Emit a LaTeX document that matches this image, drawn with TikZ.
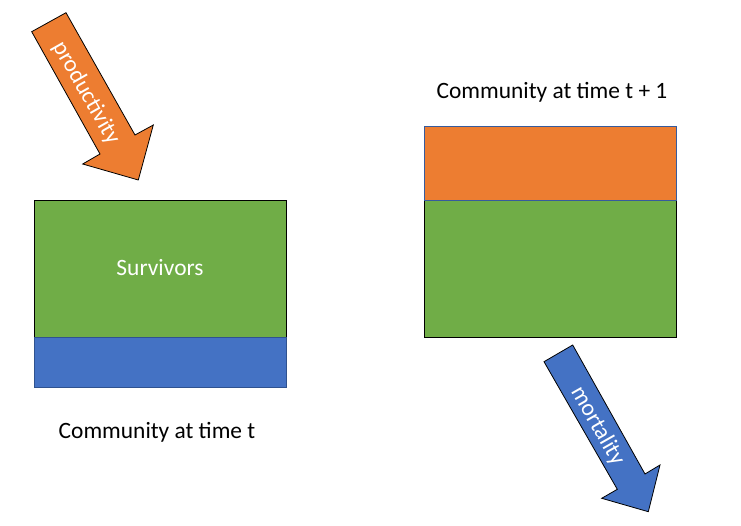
\documentclass[tikz,border=0pt]{standalone}
\usepackage{fontspec}
\setmainfont{Carlito}
\definecolor{cgreen}{HTML}{70AD47}
\definecolor{corange}{HTML}{ED7D31}
\definecolor{cblue}{HTML}{4472C4}
\definecolor{cdblue}{HTML}{2F528F}
\tikzset{
  lbl/.style={font=\fontsize{23.5}{26}\selectfont, inner sep=0pt, anchor=base},
  arrowshape/.style={draw=black, line width=0.8bp, line join=miter},
  arrowtext/.style={font=\fontsize{23.5}{26}\selectfont, text=white, rotate=-60.4, inner sep=0pt}
}
\begin{document}
\begin{tikzpicture}[x=1bp,y=-1bp]
\useasboundingbox (0,0) rectangle (741,526);
% left community
\fill[cgreen] (34.3,200.7) rectangle (286.7,337);
\fill[cblue] (34.3,337) rectangle (286.7,387);
\draw[draw=cdblue, line width=0.9bp] (34.3,337) rectangle (286.7,387);
\draw[black, line width=0.9bp] (34.3,337) -- (34.3,200.7) -- (286.7,200.7) -- (286.7,337);
\node[lbl, text=white] (surv) at (160,275.7) {Survivors};
\node[lbl] (lt) at (157,438.3) {Community at time t};
% right community
\fill[corange] (424.3,126) rectangle (676.7,200);
\fill[cgreen] (424.3,200) rectangle (676.7,337.3);
\draw[black, line width=0.9bp] (424.3,200) rectangle (676.7,337.3);
\draw[draw=cblue!80!black, line width=0.9bp] (424.3,126) rectangle (676.7,200);
\node[lbl] (rt) at (552,99) {Community at time t + 1};
% productivity arrow
\filldraw[arrowshape, fill=corange] (31.7,31.7) -- (66,12.7) -- (135,135) -- (153.3,125) -- (138.3,180) -- (82.7,164) -- (100,154) -- cycle;
\node[arrowtext] (prod) at (86,93) {productivity};
% mortality arrow
\filldraw[arrowshape, fill=cblue] (544,361.7) -- (572.7,345) -- (645,474) -- (660,465) -- (648.3,511.7) -- (601.7,498.3) -- (617.3,489.3) -- cycle;
\node[arrowtext] (mort) at (597.5,426) {mortality};
\end{tikzpicture}
\end{document}
